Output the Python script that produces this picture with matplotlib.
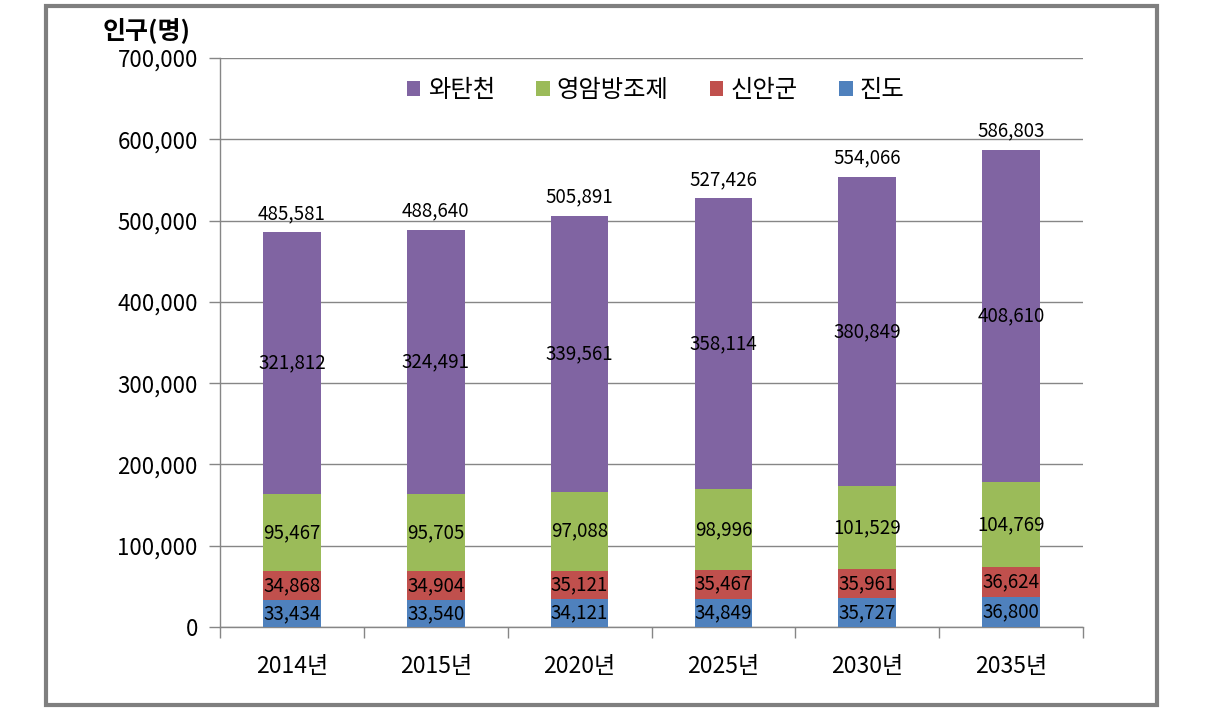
import numpy as np
import matplotlib
matplotlib.use("Agg")
import matplotlib.pyplot as plt
from matplotlib.patches import Rectangle
from matplotlib.ticker import FuncFormatter

plt.rcParams['font.family'] = ['Noto Sans CJK KR', 'DejaVu Sans']

# 데이터
years = ["2014년", "2015년", "2020년", "2025년", "2030년", "2035년"]
jindo = [33434, 33540, 34121, 34849, 35727, 36800]
sinan = [34868, 34904, 35121, 35467, 35961, 36624]
yeongam = [95467, 95705, 97088, 98996, 101529, 104769]
watan = [321812, 324491, 339561, 358114, 380849, 408610]

series = [("진도", jindo, "#4F81BD"),
          ("신안군", sinan, "#C0504D"),
          ("영암방조제", yeongam, "#9BBB59"),
          ("와탄천", watan, "#8064A2")]

fig = plt.figure(figsize=(12.13, 7.2), dpi=100)
ax = fig.add_axes([0.1814, 0.1292, 0.7114, 0.7902])

x = np.arange(len(years))
bottom = np.zeros(len(years))
containers = {}
for name, vals, col in series:
    bars = ax.bar(x, vals, width=0.4, bottom=bottom, color=col, label=name, zorder=3)
    ax.bar_label(bars, labels=[f"{v:,}" for v in vals], label_type='center',
                 fontsize=13.5, color='black')
    containers[name] = bars
    bottom += np.array(vals)

totals = bottom
ax.bar_label(containers["와탄천"], labels=[f"{int(v):,}" for v in totals],
             padding=6, fontsize=13.5, color='black')

# 축
ax.set_ylim(0, 700000)
ax.set_xlim(-0.5, len(years) - 0.5)
ax.set_yticks(np.arange(0, 700001, 100000))
ax.yaxis.set_major_formatter(FuncFormatter(lambda v, p: f"{int(v):,}"))
ax.set_xticks(x)
ax.set_xticklabels(years)
ax.set_xticks(np.arange(-0.5, len(years), 1), minor=True)
ax.tick_params(axis='x', which='major', length=0, labelsize=16.5, pad=20)
ax.tick_params(axis='x', which='minor', length=8, color='#868686', width=1)
ax.tick_params(axis='y', length=8, color='#868686', width=1, labelsize=16, pad=8)

ax.grid(axis='y', color='#868686', linewidth=1, zorder=0)
for s in ['top', 'right']:
    ax.spines[s].set_visible(False)
for s in ['left', 'bottom']:
    ax.spines[s].set_color('#868686')
    ax.spines[s].set_linewidth(1)

# 범례
handles, labels = ax.get_legend_handles_labels()
leg = ax.legend(handles[::-1], labels[::-1], loc='upper center', ncol=4,
                bbox_to_anchor=(0.505, 1.005), frameon=False, fontsize=17.5,
                handlelength=0.55, handleheight=0.55, handletextpad=0.3,
                columnspacing=1.7)

fig.text(0.157, 0.958, "인구(명)", fontsize=18, fontweight='bold', ha='right', va='center')

# 외곽선
fig.patches.append(Rectangle((0.0379, 0.0208), 0.9159, 0.9709, transform=fig.transFigure,
                             fill=False, edgecolor='#7F7F7F', linewidth=3))

fig.savefig("out.png", dpi=100)
